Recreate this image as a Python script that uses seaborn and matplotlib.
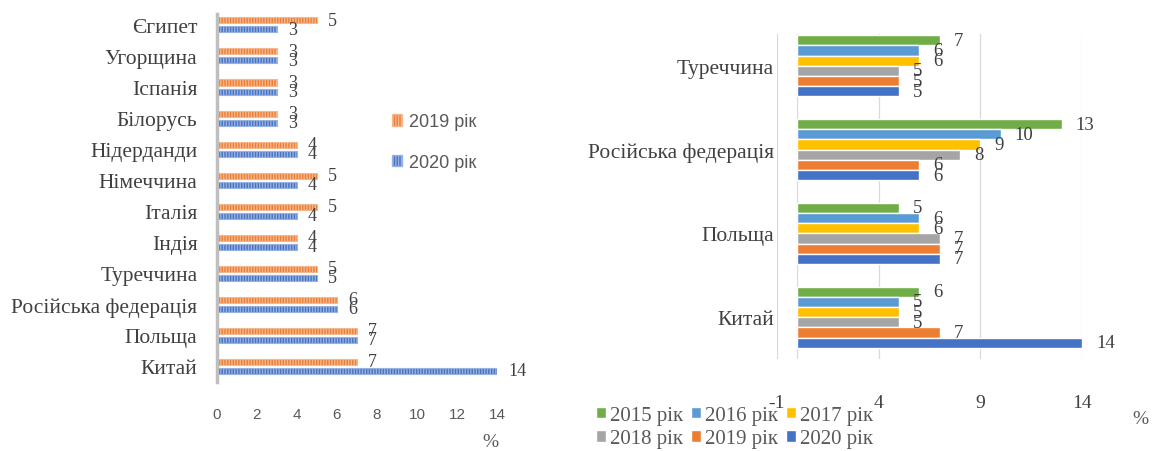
import matplotlib
matplotlib.use("Agg")
import matplotlib.pyplot as plt
import matplotlib.colors as mcolors
import numpy as np
import pandas as pd
import seaborn as sns
from matplotlib.patches import Patch

# ---- data: left chart (2019 / 2020)
countries_left = ['Єгипет', 'Угорщина', 'Іспанія', 'Білорусь', 'Нідерданди', 'Німеччина',
                  'Італія', 'Індія', 'Туреччина', 'Російська федерація', 'Польща', 'Китай']
left_2019 = [5, 3, 3, 3, 4, 5, 5, 4, 5, 6, 7, 7]
left_2020 = [3, 3, 3, 3, 4, 4, 4, 4, 5, 6, 7, 14]
left_years = ['2019 рік', '2020 рік']
left_ticks = [0, 2, 4, 6, 8, 10, 12, 14]

# ---- data: right chart (2015 - 2020)
countries_right = ['Туреччина', 'Російська федерація', 'Польща', 'Китай']
right_years = ['2015 рік', '2016 рік', '2017 рік', '2018 рік', '2019 рік', '2020 рік']
r2015 = [7, 13, 5, 6]
r2016 = [6, 10, 6, 5]
r2017 = [6, 9, 6, 5]
r2018 = [5, 8, 7, 5]
r2019 = [5, 6, 7, 7]
r2020 = [5, 6, 7, 14]
right_ticks = [-1, 4, 9, 14]

# colours
GREEN, LBLUE, YELLOW, GRAY, ORANGE, BLUE = '#70AD47', '#5B9BD5', '#FFC000', '#A5A5A5', '#ED7D31', '#4472C4'
TXT = '#404040'
TICK = '#595959'

SERIF = ['Liberation Serif', 'DejaVu Serif']
NARROW = ['Liberation Sans Narrow', 'Liberation Sans', 'DejaVu Sans']

sns.set_style('white')
plt.rcParams['font.family'] = SERIF
plt.rcParams['hatch.linewidth'] = 1.0

df_left = pd.DataFrame({
    'country': countries_left * 2,
    'year': [left_years[0]] * len(countries_left) + [left_years[1]] * len(countries_left),
    'value': left_2019 + left_2020,
})

right_vals = [r2015, r2016, r2017, r2018, r2019, r2020]
df_right = pd.DataFrame({
    'country': countries_right * len(right_years),
    'year': [y for y in right_years for _ in countries_right],
    'value': [v for vals in right_vals for v in vals],
})

fig = plt.figure(figsize=(11.6, 4.52), dpi=100)
axL = fig.add_axes([0.187, 0.1527, 0.2414, 0.814])
axR = fig.add_axes([0.6698, 0.2035, 0.263, 0.719])

# ---------------- left chart
sns.barplot(data=df_left, y='country', x='value', hue='year', hue_order=left_years,
            palette=[ORANGE, BLUE], saturation=1, orient='h', width=0.58, gap=0.33,
            legend=False, ax=axL)


def lighten(c, amt=0.45):
    r, g, b = mcolors.to_rgb(c)
    return (r + (1 - r) * amt, g + (1 - g) * amt, b + (1 - b) * amt)


for patch in axL.patches:
    fc = patch.get_facecolor()
    patch.set_edgecolor(lighten(fc))
    patch.set_hatch('||||||')
    patch.set_linewidth(0.8)

for cont in axL.containers:
    axL.bar_label(cont, padding=8, fontsize=13, color=TXT, family=SERIF, clip_on=False)

axL.set_xlim(0, 14)
axL.set_ylim(11.5, -0.35)
axL.set_xticks(left_ticks)
axL.set_xticklabels([str(t) for t in left_ticks], family=NARROW, fontsize=11, color=TICK)
axL.tick_params(axis='x', length=0, pad=18)
axL.tick_params(axis='y', length=0, pad=14, labelsize=15.5, labelcolor=TXT)
axL.set_xlabel('')
axL.set_ylabel('')
for s in ['top', 'right', 'bottom']:
    axL.spines[s].set_visible(False)
axL.spines['left'].set_color('#bfbfbf')
axL.spines['left'].set_linewidth(2.5)

left_handles = [Patch(facecolor=c, edgecolor=lighten(c), hatch='||||||') for c in [ORANGE, BLUE]]
fig.legend(left_handles, left_years, loc='center left', bbox_to_anchor=(376 / 1160, 1 - 143 / 452),
           frameon=False, labelspacing=1.3, handlelength=0.55, handleheight=0.6, handletextpad=0.4,
           prop={'family': NARROW, 'size': 13}, labelcolor=TICK)

# ---------------- right chart
sns.barplot(data=df_right, y='country', x='value', hue='year', hue_order=right_years,
            palette=[GREEN, LBLUE, YELLOW, GRAY, ORANGE, BLUE], saturation=1, orient='h',
            width=0.73, legend=False, ax=axR)

for cont in axR.containers:
    axR.bar_label(cont, padding=10, fontsize=13.5, color=TXT, family=SERIF, clip_on=False)

axR.set_xlim(-1, 14)
axR.set_ylim(3.5, -0.38)
axR.set_xticks(right_ticks)
axR.set_xticklabels([str(t) for t in right_ticks], fontsize=14, color=TXT)
axR.grid(axis='x', color='#d9d9d9', linewidth=0.9)
axR.set_axisbelow(True)
axR.axvline(0, color='#d9d9d9', linewidth=0.9, zorder=0)
axR.tick_params(axis='x', length=0, pad=25)
axR.tick_params(axis='y', length=0, pad=2, labelsize=15.5, labelcolor=TXT)
axR.set_xlabel('')
axR.set_ylabel('')
for s in ['top', 'right', 'bottom', 'left']:
    axR.spines[s].set_visible(False)

# legend filled row by row: 2015 2016 2017 / 2018 2019 2020
right_colors = [GREEN, LBLUE, YELLOW, GRAY, ORANGE, BLUE]
order = [0, 3, 1, 4, 2, 5]
right_handles = [Patch(facecolor=right_colors[i]) for i in order]
right_labels = [right_years[i] for i in order]
fig.legend(right_handles, right_labels, loc='center left', bbox_to_anchor=(577 / 1160, 1 - 428 / 452),
           ncol=3, frameon=False, labelspacing=0.2, columnspacing=0.35, handlelength=0.5,
           handleheight=0.5, handletextpad=0.2, prop={'family': SERIF, 'size': 15}, labelcolor=TICK)

fig.text(490 / 1160, 1 - 443 / 452, '%', fontsize=14, color=TICK, ha='center', va='center')
fig.text(1140 / 1160, 1 - 420 / 452, '%', fontsize=14, color=TICK, ha='center', va='center')

fig.savefig('out.png', dpi=100)
